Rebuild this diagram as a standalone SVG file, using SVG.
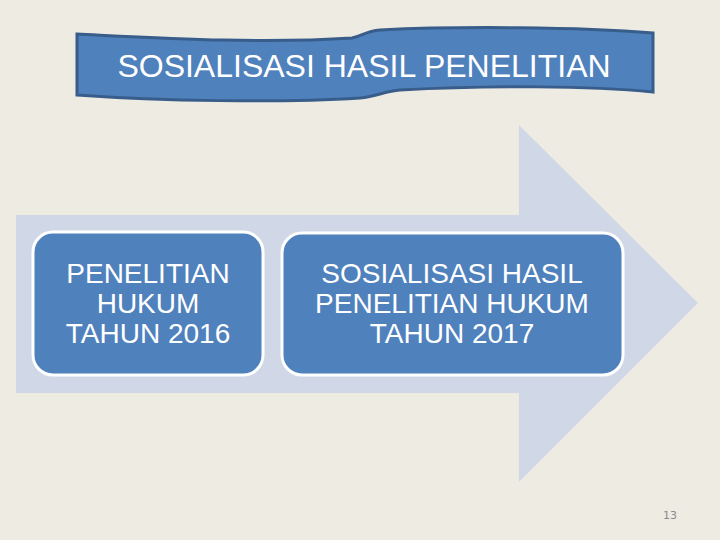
<svg xmlns="http://www.w3.org/2000/svg" width="720" height="540" viewBox="0 0 720 540">
<style>
.t{font-family:"Liberation Sans",Arial,sans-serif;fill:#ffffff;text-anchor:middle}
.box{fill:#4F81BD;stroke:#ffffff;stroke-width:3}
</style>
<rect width="720" height="540" fill="#EEEBE2"/>
<g id="arrow">
<path d="M16,215 H519 V125 L698,303 L519,482 V393 H16 Z" fill="#D0D8E8"/>
</g>
<g id="title">
<path d="M77,34 C160,38 260,44 352,38 C362,36 366,31 380,30 C460,26 580,27 653,33 L653,92 C590,86 490,85 400,90 C385,91 378,96 360,98 C280,103 160,101 77,95 Z" fill="#4F81BD" stroke="#385D8A" stroke-width="3"/>
<text class="t" x="364" y="77" font-size="32">SOSIALISASI HASIL PENELITIAN</text>
</g>
<g id="node1">
<rect class="box" x="33" y="232" width="230" height="143" rx="20"/>
<text class="t" font-size="28"><tspan x="148" y="283">PENELITIAN</tspan><tspan x="148" y="313">HUKUM</tspan><tspan x="148" y="343">TAHUN 2016</tspan></text>
</g>
<g id="node2">
<rect class="box" x="282" y="233" width="341" height="142" rx="20"/>
<text class="t" font-size="28"><tspan x="452" y="283">SOSIALISASI HASIL</tspan><tspan x="452" y="313">PENELITIAN HUKUM</tspan><tspan x="452" y="343">TAHUN 2017</tspan></text>
</g>
<g id="connectors"></g>
<text x="670" y="519" font-family="'DejaVu Sans',Verdana,sans-serif" font-size="11" fill="#8A8A8A" text-anchor="middle">13</text>
</svg>
